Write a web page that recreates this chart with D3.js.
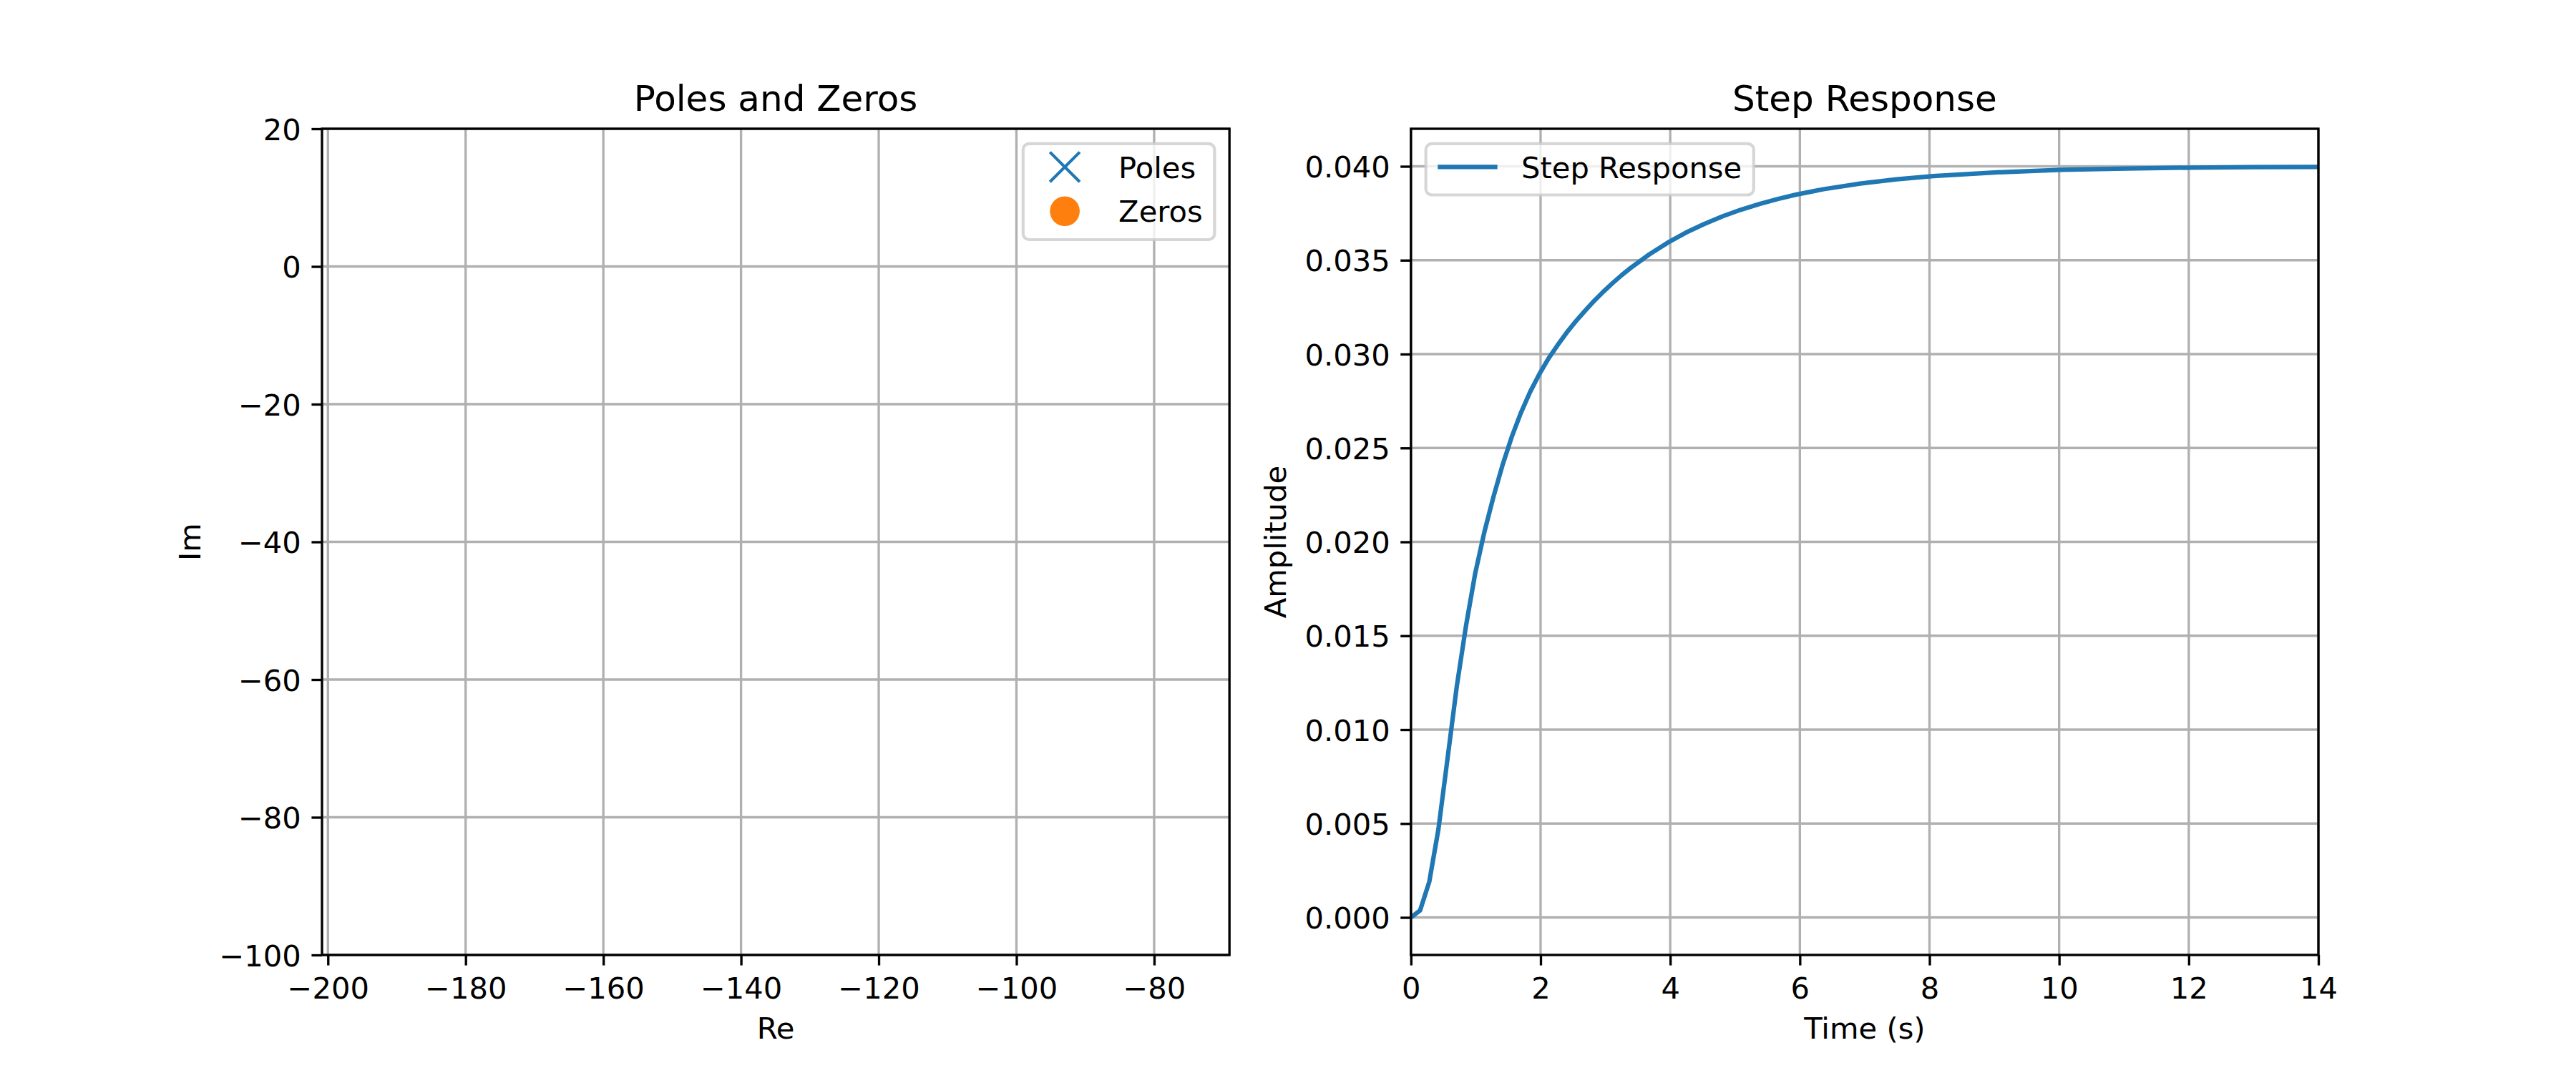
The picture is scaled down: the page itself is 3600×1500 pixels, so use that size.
<!DOCTYPE html>
<html>
<head>
<meta charset="utf-8">
<script src="https://cdn.jsdelivr.net/npm/d3@7"></script>
<style>
  html, body { margin: 0; padding: 0; background: #ffffff; }
  svg { display: block; font-family: "DejaVu Sans", sans-serif; }
</style>
</head>
<body>
<svg id="chart" width="3600" height="1500"></svg>
<script>
// ---------------- data ----------------
const poleRe = [];          // no pole visible inside the plotted window
const poleIm = [];
const zeroRe = [];          // no zero visible inside the plotted window
const zeroIm = [];
const pzReDomain = [-200.86, -69.06];
const pzImDomain = [-100, 20];
const pzReTicks = [-200, -180, -160, -140, -120, -100, -80];
const pzImTicks = [-100, -80, -60, -40, -20, 0, 20];

const stepTime = [0, 0.141, 0.283, 0.424, 0.566, 0.707, 0.848, 0.990, 1.131, 1.273,
  1.414, 1.556, 1.697, 1.838, 1.980, 2.121, 2.263, 2.404, 2.545, 2.687,
  2.828, 2.970, 3.111, 3.253, 3.394, 3.677, 3.960, 4.242, 4.525, 4.808,
  5.091, 5.374, 5.657, 5.939, 6.364, 6.929, 7.495, 8.061, 9.051, 10.04,
  11.03, 12.02, 13.01, 14.0];
const stepAmp = [0, 0.00037, 0.0019, 0.0047, 0.0085, 0.0123, 0.0155, 0.0183, 0.0205, 0.0224,
  0.0241, 0.0256, 0.02688, 0.02798, 0.02893, 0.02976, 0.03048, 0.03115, 0.03175, 0.03231,
  0.03284, 0.03333, 0.03378, 0.03421, 0.0346, 0.03531, 0.03593, 0.03647, 0.03693, 0.03734,
  0.03769, 0.03799, 0.03826, 0.03849, 0.03878, 0.03908, 0.03931, 0.03948, 0.03968, 0.03981,
  0.03988, 0.03993, 0.03996, 0.03997];
const timeDomain = [0, 14];
const ampDomain = [-0.002, 0.042];
const timeTicks = [0, 2, 4, 6, 8, 10, 12, 14];
const ampTicks = [0, 0.005, 0.010, 0.015, 0.020, 0.025, 0.030, 0.035, 0.040];

// ---------------- style ----------------
const PT = 300 / 72;
const FS = 10 * PT;
const TFS = 12 * PT;
const LW = 0.8 * PT;
const TICK = 3.5 * PT;
const PAD = 3.5 * PT;
const BLUE = "#1f77b4", ORANGE = "#ff7f0e", GRID = "#b0b0b0";

const svg = d3.select("#chart");
const axTop = 180, axBottom = 1335;
const axW = 2790 / 2.2;
const panels = [
  { x0: 450, x1: 450 + axW },
  { x0: 450 + 1.2 * axW, x1: 3240 }
];

function textWidth(str, size) {
  const t = svg.append("text").attr("font-size", size).text(str);
  const w = t.node().getComputedTextLength();
  t.remove();
  return w;
}

function panel(p, xDom, yDom, xTicks, yTicks, xFmt, yFmt, title, xLabel, yLabel, id) {
  const x = d3.scaleLinear().domain(xDom).range([p.x0, p.x1]);
  const y = d3.scaleLinear().domain(yDom).range([axBottom, axTop]);
  const g = svg.append("g");

  // grid
  g.append("g").selectAll("line").data(xTicks).join("line")
    .attr("x1", d => x(d)).attr("x2", d => x(d)).attr("y1", axTop).attr("y2", axBottom)
    .attr("stroke", GRID).attr("stroke-width", LW);
  g.append("g").selectAll("line").data(yTicks).join("line")
    .attr("y1", d => y(d)).attr("y2", d => y(d)).attr("x1", p.x0).attr("x2", p.x1)
    .attr("stroke", GRID).attr("stroke-width", LW);

  // axes
  const xa = g.append("g").attr("transform", `translate(0,${axBottom})`)
    .call(d3.axisBottom(x).tickValues(xTicks).tickFormat(xFmt).tickSize(TICK).tickPadding(PAD));
  const ya = g.append("g").attr("transform", `translate(${p.x0},0)`)
    .call(d3.axisLeft(y).tickValues(yTicks).tickFormat(yFmt).tickSize(TICK).tickPadding(PAD));
  [xa, ya].forEach(a => {
    a.select(".domain").remove();
    a.selectAll(".tick line").attr("stroke", "#000").attr("stroke-width", LW);
    a.selectAll(".tick text").attr("font-size", FS).attr("fill", "#000")
      .attr("font-family", "DejaVu Sans");
  });
  xa.selectAll(".tick text").attr("dy", "0.76em");
  ya.selectAll(".tick text").attr("dy", "0.365em");

  // clip
  svg.append("clipPath").attr("id", id).append("rect")
    .attr("x", p.x0).attr("y", axTop).attr("width", p.x1 - p.x0).attr("height", axBottom - axTop);

  // title / labels
  g.append("text").attr("x", (p.x0 + p.x1) / 2).attr("y", axTop - 6 * PT)
    .attr("text-anchor", "middle").attr("font-size", TFS).text(title);
  g.append("text").attr("x", (p.x0 + p.x1) / 2).attr("y", 1452)
    .attr("text-anchor", "middle").attr("font-size", FS).text(xLabel);
  const maxW = d3.max(yTicks, d => textWidth(yFmt(d), FS));
  const lx = p.x0 - TICK - PAD - maxW - 4 * PT - 0.236 * FS;
  g.append("text").attr("transform", `translate(${lx},${(axTop + axBottom) / 2}) rotate(-90)`)
    .attr("text-anchor", "middle").attr("font-size", FS).text(yLabel);

  return { x, y, g };
}

function legend(p, items, align) {
  const bp = 0.4 * FS, hl = 2 * FS, htp = 0.8 * FS, ls = 0.5 * FS, bap = 0.5 * FS;
  const rowH = 40;
  const tw = d3.max(items, d => textWidth(d.label, FS));
  const w = bp + hl + htp + tw + bp;
  const h = 2 * bp + items.length * rowH + (items.length - 1) * ls + (items.length === 1 ? -1.7 : 0);
  const left = align === "right" ? p.x1 - bap - w : p.x0 + bap;
  const top = axTop + bap;
  const g = svg.append("g");
  g.append("rect").attr("x", left).attr("y", top).attr("width", w).attr("height", h)
    .attr("rx", 0.2 * FS).attr("ry", 0.2 * FS)
    .attr("fill", "#ffffff").attr("fill-opacity", 0.8)
    .attr("stroke", "#cccccc").attr("stroke-opacity", 0.8).attr("stroke-width", 1.0 * PT);
  items.forEach((d, i) => {
    const cy = top + 32.6 + i * (rowH + ls + 1);
    const hx = left + bp;
    if (d.type === "line") {
      g.append("line").attr("x1", hx).attr("x2", hx + hl).attr("y1", cy).attr("y2", cy)
        .attr("stroke", d.color).attr("stroke-width", 1.5 * PT);
    } else if (d.type === "x") {
      const r = 10 * PT / 2, cx = hx + hl / 2;
      g.append("path").attr("d", `M${cx - r},${cy - r}L${cx + r},${cy + r}M${cx - r},${cy + r}L${cx + r},${cy - r}`)
        .attr("stroke", d.color).attr("stroke-width", 1.0 * PT).attr("fill", "none");
    } else {
      g.append("circle").attr("cx", hx + hl / 2).attr("cy", cy).attr("r", 10 * PT / 2)
        .attr("fill", d.color);
    }
    g.append("text").attr("x", left + bp + hl + htp).attr("y", cy + 0.365 * FS)
      .attr("font-size", FS).text(d.label);
  });
}

// ---------- left: poles and zeros ----------
const fmtInt = d3.format("d");
const L = panel(panels[0], pzReDomain, pzImDomain, pzReTicks, pzImTicks, fmtInt, fmtInt,
  "Poles and Zeros", "Re", "Im", "clipL");
const plot = L.g.append("g").attr("clip-path", "url(#clipL)");
const poles = poleRe.map((r, i) => [r, poleIm[i]]);
const zeros = zeroRe.map((r, i) => [r, zeroIm[i]]);
const mr = 10 * PT / 2;
plot.selectAll("path.pole").data(poles).join("path").attr("class", "pole")
  .attr("d", d => { const cx = L.x(d[0]), cy = L.y(d[1]);
    return `M${cx - mr},${cy - mr}L${cx + mr},${cy + mr}M${cx - mr},${cy + mr}L${cx + mr},${cy - mr}`; })
  .attr("stroke", BLUE).attr("stroke-width", PT).attr("fill", "none");
plot.selectAll("circle.zero").data(zeros).join("circle").attr("class", "zero")
  .attr("cx", d => L.x(d[0])).attr("cy", d => L.y(d[1])).attr("r", mr).attr("fill", ORANGE);

// ---------- right: step response ----------
const R = panel(panels[1], timeDomain, ampDomain, timeTicks, ampTicks, d3.format("d"), d3.format(".3f"),
  "Step Response", "Time (s)", "Amplitude", "clipR");
R.g.append("path").attr("clip-path", "url(#clipR)")
  .datum(stepTime.map((t, i) => [t, stepAmp[i]]))
  .attr("d", d3.line().x(d => R.x(d[0])).y(d => R.y(d[1])))
  .attr("fill", "none").attr("stroke", BLUE).attr("stroke-width", 1.5 * PT)
  .attr("stroke-linejoin", "round").attr("stroke-linecap", "butt");

// spines on top
[L, R].forEach((P, i) => {
  const p = panels[i];
  svg.append("rect").attr("x", p.x0).attr("y", axTop).attr("width", p.x1 - p.x0).attr("height", axBottom - axTop)
    .attr("fill", "none").attr("stroke", "#000").attr("stroke-width", LW);
});

legend(panels[0], [
  { label: "Poles", type: "x", color: BLUE },
  { label: "Zeros", type: "o", color: ORANGE }
], "right");
legend(panels[1], [
  { label: "Step Response", type: "line", color: BLUE }
], "left");
</script>
</body>
</html>
